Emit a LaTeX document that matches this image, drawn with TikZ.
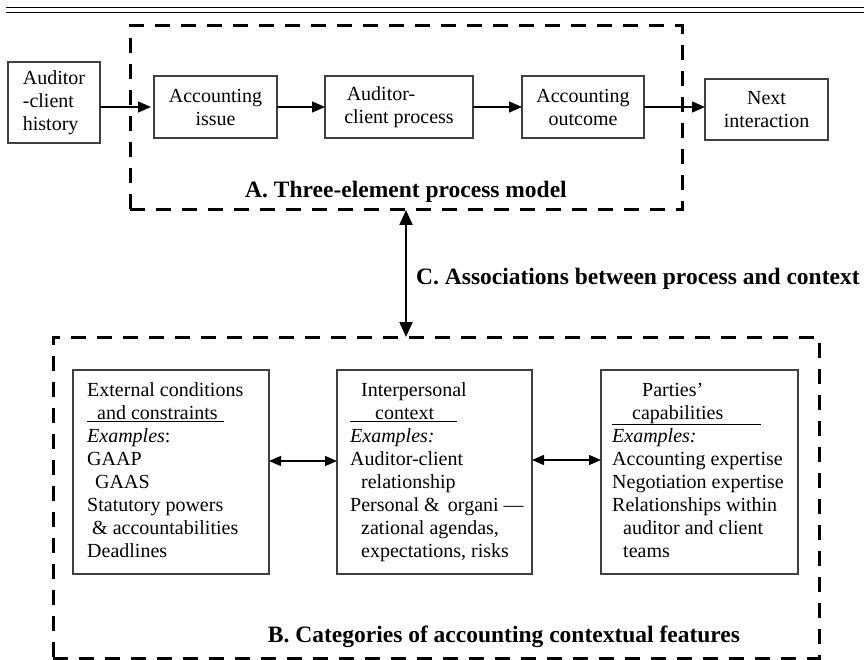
\documentclass[tikz,border=0pt]{standalone}
\usepackage{fontspec}
\setmainfont{Liberation Serif}
\usetikzlibrary{arrows.meta}
\begin{document}
\begin{tikzpicture}[x=1pt,y=-1pt,
  procbox/.style={draw=black!75, line width=1.4pt, inner sep=0pt, outer sep=0pt, align=center, font=\fontsize{20}{23}\selectfont, anchor=north west},
  catbox/.style={draw=black!75, line width=1.4pt, inner sep=0pt, outer sep=0pt, anchor=north west, minimum height=204pt},
  cattext/.style={inner sep=0pt, align=left, anchor=north west, font=\fontsize{20}{23}\selectfont},
  dashbox/.style={draw=black, line width=3pt, dash pattern=on 15pt off 11pt, inner sep=0pt, outer sep=0pt, anchor=north west},
  flow/.style={-{Triangle[length=13pt,width=11pt]}, line width=1.3pt},
  link/.style={{Triangle[length=12pt,width=10pt]}-{Triangle[length=12pt,width=10pt]}, line width=1.3pt},
  assoc/.style={{Triangle[length=15pt,width=13pt]}-{Triangle[length=15pt,width=13pt]}, line width=2pt},
  heading/.style={inner sep=0pt, font=\fontsize{23.5}{27}\selectfont\bfseries}]
\useasboundingbox (0,0) rectangle (864,660);
\draw[line width=1.3pt] (6,7.7) -- (864,7.7) (6,12.7) -- (864,12.7);

% dashed frames
\node[dashbox, minimum width=552pt, minimum height=184pt] (Abox) at (130,26) {};
\node[dashbox, minimum width=766pt, minimum height=321pt] (Bbox) at (53,337) {};

% process model
\node[procbox, align=left, minimum width=92pt, minimum height=81pt] (hist) at (8,62) {Auditor\\-client\\history};
\node[procbox, minimum width=123pt, minimum height=62pt] (issue) at (154,76) {Accounting\\issue};
\node[procbox, minimum width=148pt, minimum height=62pt] (proc) at (325,76) {Auditor-\hspace*{36pt}\\client process};
\node[procbox, minimum width=122pt, minimum height=62pt] (outc) at (522,76) {Accounting\\outcome};
\node[procbox, minimum width=123pt, minimum height=61pt] (next) at (705,79) {Next\\interaction};

\draw[flow, shorten >=3pt] (hist.east |- issue.west) -- (issue.west);
\draw[flow] (issue.east) -- (proc.west);
\draw[flow] (proc.east) -- (outc.west);
\draw[flow] (outc.east) -- (next.west |- outc.east);

% labels
\node[heading, anchor=base] (Alab) at (406,198) {A. Three-element process model};
\node[heading, anchor=base west] (Clab) at (416,284) {C. Associations between process and context};
\node[heading, anchor=base] (Blab) at (504,642) {B. Categories of accounting contextual features};

\draw[assoc] (Abox.south) -- (Abox.south |- Bbox.north);

% categories
\node[catbox, minimum width=196pt] (ext) at (73,370) {};
\node[catbox, minimum width=195pt] (inter) at (337,370) {};
\node[catbox, minimum width=197pt] (cap) at (601,370) {};

\node[cattext] (extT) at (87,382.5) {External conditions\\\underline{\hspace*{10pt}and constraints\hspace*{6pt}}\\\textit{Examples}:\\GAAP\\\hspace*{8pt}GAAS\\Statutory powers\\\hspace*{5pt}\& accountabilities\\Deadlines};
\node[cattext] (interT) at (350,382.5) {\hspace*{11pt}Interpersonal\\\underline{\hspace*{25pt}context\hspace*{23pt}}\\\textit{Examples:}\\Auditor-client\\\hspace*{11pt}relationship\\Personal \& \,organi —\\\hspace*{11pt}zational agendas,\\\hspace*{11pt}expectations, risks};
\node[cattext] (capT) at (612,382.5) {\hspace*{30pt}Parties’\\\underline{\hspace*{20pt}capabilities\hspace*{38pt}}\\\textit{Examples:}\\Accounting expertise\\Negotiation expertise\\Relationships within\\\hspace*{11pt}auditor and client\\\hspace*{11pt}teams};

\draw[link] ([yshift=11pt]ext.east) -- ([yshift=11pt]inter.west);
\draw[link] ([yshift=12pt]inter.east) -- ([yshift=12pt]cap.west);
\end{tikzpicture}
\end{document}
